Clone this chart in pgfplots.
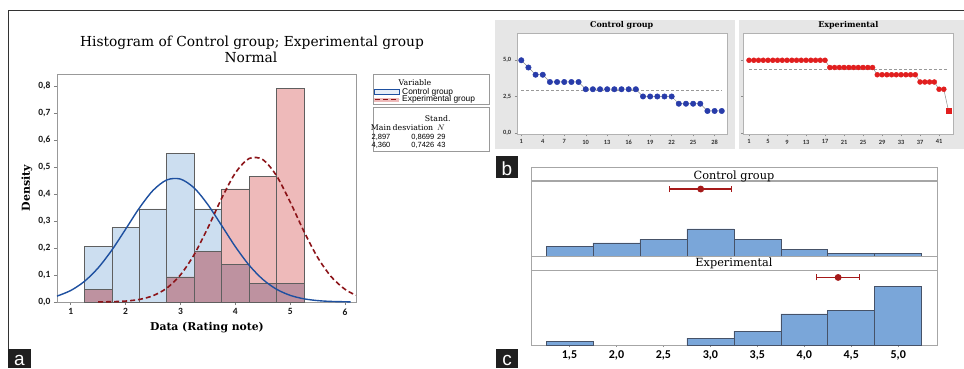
\documentclass[border=0pt]{standalone}
\usepackage{fontspec}
\setmainfont{DejaVu Serif}
\newfontfamily\sfc{Carlito}
\newfontfamily\arl{Liberation Sans}
\usepackage{pgfplots}
\pgfplotsset{compat=1.18}

\definecolor{ctrlfill}{RGB}{204,222,240}
\definecolor{expfill}{RGB}{238,186,186}
\definecolor{ovfill}{RGB}{190,146,160}
\definecolor{edgegray}{RGB}{95,95,95}
\definecolor{ctrlline}{RGB}{30,80,160}
\definecolor{expline}{RGB}{140,20,25}
\definecolor{dotblue}{RGB}{40,60,170}
\definecolor{dotred}{RGB}{225,30,30}
\definecolor{pbgray}{RGB}{230,230,230}
\definecolor{cbar}{RGB}{122,166,217}
\definecolor{cedge}{RGB}{70,82,104}
\definecolor{cired}{RGB}{165,25,25}

\begin{document}
\begin{tikzpicture}[x=1pt,y=1pt]
\useasboundingbox (0,0) rectangle (964,368);
\fill[white] (0,0) rectangle (964,368);
\draw[black!80, line width=0.8pt] (8,19) -- (8,358) -- (964,358);

% ---------------- panel a ----------------
\begin{axis}[at={(57pt,66pt)}, anchor=south west, scale only axis,
  width=299pt, height=228pt,
  xmin=0.75, xmax=6.2, ymin=0, ymax=0.8445,
  axis line style={draw=black!40},
  tick align=outside, tick pos=left, major tick length=3pt,
  tick style={black!50, line width=0.5pt},
  xtick={1,2,3,4,5,6}, xticklabels={1,2,3,4,5,6},
  ytick={0,0.1,0.2,0.3,0.4,0.5,0.6,0.7,0.8},
  yticklabels={{0,0},{0,1},{0,2},{0,3},{0,4},{0,5},{0,6},{0,7},{0,8}},
  ticklabel style={font=\fontsize{9.5}{10}\sfc\bfseries, text=black!90},
  clip=true]
\addplot[ybar, bar width=0.5, bar shift=0pt, fill=ctrlfill, draw=edgegray, line width=0.7pt]
  coordinates {(1.5,0.2069)(2.0,0.2759)(2.5,0.3448)(3.0,0.5517)(3.5,0.3448)(4.0,0.1379)(4.5,0.0690)(5.0,0.0690)};
\addplot[ybar, bar width=0.5, bar shift=0pt, fill=expfill, draw=edgegray, line width=0.7pt]
  coordinates {(1.5,0.0465)(3.0,0.0930)(3.5,0.1860)(4.0,0.4186)(4.5,0.4651)(5.0,0.7907)};
\addplot[ybar, bar width=0.5, bar shift=0pt, fill=ovfill, draw=edgegray, line width=0.7pt]
  coordinates {(1.5,0.0465)(3.0,0.0930)(3.5,0.1860)(4.0,0.1379)(4.5,0.0690)(5.0,0.0690)};
\addplot[smooth, ctrlline, line width=1.4pt] coordinates {
(0.75,0.02181)(1.0,0.04253)(1.25,0.07639)(1.5,0.12631)(1.75,0.19228)(2.0,0.26949)(2.25,0.34779)(2.5,0.41326)(2.75,0.45211)(3.0,0.45541)(3.25,0.42237)(3.5,0.36066)(3.75,0.28357)(4.0,0.20527)(4.25,0.13681)(4.5,0.08397)(4.75,0.04744)(5.0,0.02468)(5.25,0.01182)(5.5,0.00522)(5.75,0.00212)(6.1,0.00052)};
\addplot[smooth, expline, line width=1.6pt, dash pattern=on 5pt off 3pt] coordinates {
(1.5,0.00032)(1.75,0.00112)(2.0,0.00344)(2.25,0.00949)(2.5,0.02333)(2.75,0.05121)(3.0,0.10042)(3.25,0.17579)(3.5,0.27472)(3.75,0.38338)(4.0,0.47766)(4.25,0.53136)(4.5,0.52776)(4.75,0.46802)(5.0,0.37058)(5.25,0.26197)(5.5,0.16535)(5.75,0.09319)(6.0,0.04688)(6.2,0.02494)};
\end{axis}

\node[anchor=base, font=\fontsize{13.8}{15}\selectfont] at (252,321.3) {Histogram of Control group; Experimental group};
\node[anchor=base, font=\fontsize{13.8}{15}\selectfont] at (251,305.3) {Normal};
\node[rotate=90, font=\fontsize{11}{12}\bfseries] at (27,180) {Density};
\node[font=\fontsize{10.8}{12}\bfseries] at (207,40) {Data (Rating note)};

% legend
\draw[black!40, line width=0.5pt] (373,294) rectangle (489,264);
\draw[black!40, line width=0.5pt] (373,261) rectangle (489,217);
\node[font=\fontsize{7.8}{8}\selectfont] at (415,285) {Variable};
\filldraw[fill=ctrlfill!50, draw=ctrlline, line width=0.8pt] (374,273.7) rectangle (399,278.3);
\node[anchor=west, font=\fontsize{8.4}{9}\arl, inner sep=0pt] at (402,276) {Control group};
\fill[expfill] (374,266) rectangle (399,270.3);
\draw[expline, line width=1.3pt, dash pattern=on 5pt off 3pt] (375,268.2) -- (399,268.2);
\node[anchor=west, font=\fontsize{8.4}{9}\arl, inner sep=0pt] at (402,268.2) {Experimental group};
\node[font=\fontsize{7.8}{8}\selectfont] at (437.7,249) {Stand.};
\node[font=\fontsize{7.8}{8}\selectfont] at (381,240) {Main};
\node[font=\fontsize{7.8}{8}\selectfont] at (413,240) {desviation};
\node[font=\fontsize{7.8}{8}\selectfont] at (441,240) {$N$};
\node[font=\fontsize{7.5}{8}\arl] at (381,231) {2,897};
\node[anchor=east, inner sep=0pt, font=\fontsize{7.5}{8}\arl] at (434.5,231) {0,8699};
\node[anchor=west, inner sep=0pt, font=\fontsize{7.5}{8}\arl] at (437,231) {29};
\node[font=\fontsize{7.5}{8}\arl] at (381,223) {4,360};
\node[anchor=east, inner sep=0pt, font=\fontsize{7.5}{8}\arl] at (434.5,223) {0,7426};
\node[anchor=west, inner sep=0pt, font=\fontsize{7.5}{8}\arl] at (437,223) {43};

% ---------------- panel b ----------------
\fill[pbgray] (495,219) rectangle (735,348);
\fill[pbgray] (739,219) rectangle (964,348);

\begin{axis}[at={(516.7pt,233.7pt)}, anchor=south west, scale only axis,
  width=210pt, height=101pt,
  xmin=0.36, xmax=29.69, ymin=-0.11, ymax=6.86,
  axis background/.style={fill=white},
  axis line style={draw=black!30},
  tick align=outside, tick pos=left, major tick length=2pt,
  tick style={black!45, line width=0.4pt},
  xtick={1,4,7,10,13,16,19,22,25,28},
  ytick={0,2.5,5}, yticklabels={{0,0},{2,5},{5,0}},
  /pgf/number format/assume math mode=true,
  ticklabel style={font=\fontsize{6.4}{7}\sfc\bfseries, text=black!80}]
\addplot[black!40, line width=0.6pt, dash pattern=on 3pt off 2pt] coordinates {(1,2.897)(29,2.897)};
\addplot[black!45, line width=0.5pt, mark=*, mark size=2.7pt, mark options={fill=dotblue, draw=dotblue}] coordinates {
(1,5.0)(2,4.5)(3,4.0)(4,4.0)(5,3.5)(6,3.5)(7,3.5)(8,3.5)(9,3.5)(10,3.0)(11,3.0)(12,3.0)(13,3.0)(14,3.0)(15,3.0)(16,3.0)(17,3.0)(18,2.5)(19,2.5)(20,2.5)(21,2.5)(22,2.5)(23,2.0)(24,2.0)(25,2.0)(26,2.0)(27,1.5)(28,1.5)(29,1.5)};
\end{axis}
\node[font=\fontsize{8}{9}\bfseries] at (621.7,343) {Control group};

\begin{axis}[at={(743.3pt,233.7pt)}, anchor=south west, scale only axis,
  width=210pt, height=101pt,
  xmin=-0.2, xmax=44.0, ymin=-0.11, ymax=6.86,
  axis background/.style={fill=white},
  axis line style={draw=black!30},
  tick align=outside, tick pos=left, major tick length=2pt,
  tick style={black!45, line width=0.4pt},
  xtick={1,5,9,13,17,21,25,29,33,37,41},
  ytick={0,2.5,5}, yticklabels={},
  /pgf/number format/assume math mode=true,
  ticklabel style={font=\fontsize{6.4}{7}\sfc\bfseries, text=black!80}]
\addplot[black!40, line width=0.6pt, dash pattern=on 3pt off 2pt] coordinates {(1,4.36)(43,4.36)};
\addplot[black!45, line width=0.5pt] coordinates {(1,5.0)(17,5.0)(18,4.5)(27,4.5)(28,4.0)(36,4.0)(37,3.5)(40,3.5)(41,3.0)(42,3.0)(43,1.5)};
\addplot[only marks, mark=*, mark size=2.5pt, mark options={fill=dotred, draw=dotred}] coordinates {
(1,5.0)(2,5.0)(3,5.0)(4,5.0)(5,5.0)(6,5.0)(7,5.0)(8,5.0)(9,5.0)(10,5.0)(11,5.0)(12,5.0)(13,5.0)(14,5.0)(15,5.0)(16,5.0)(17,5.0)
(18,4.5)(19,4.5)(20,4.5)(21,4.5)(22,4.5)(23,4.5)(24,4.5)(25,4.5)(26,4.5)(27,4.5)
(28,4.0)(29,4.0)(30,4.0)(31,4.0)(32,4.0)(33,4.0)(34,4.0)(35,4.0)(36,4.0)
(37,3.5)(38,3.5)(39,3.5)(40,3.5)(41,3.0)(42,3.0)};
\addplot[only marks, mark=square*, mark size=2.4pt, mark options={fill=dotred, draw=dotred}] coordinates {(43,1.5)};
\end{axis}
\node[font=\fontsize{8}{9}\bfseries] at (848.3,343) {Experimental};

% ---------------- panel c ----------------
\begin{axis}[at={(531pt,111.3pt)}, anchor=south west, scale only axis,
  width=406.3pt, height=76pt,
  xmin=1.09, xmax=5.416, ymin=0, ymax=21.9,
  axis line style={draw=black!35},
  xtick=\empty, ytick=\empty, clip=false]
\addplot[ybar, bar width=0.5, bar shift=0pt, fill=cbar, draw=cedge, line width=0.6pt]
  coordinates {(1.5,3)(2.0,4)(2.5,5)(3.0,8)(3.5,5)(4.0,2)(4.5,1)(5.0,1)};
\addplot[cired, only marks, mark=*, mark size=2.8pt, line width=1.2pt,
  error bars/.cd, x dir=both, x explicit, error mark=|,
  error mark options={mark size=3pt, line width=1pt},
  error bar style={line width=1.2pt}]
  coordinates {(2.897,19.5) +- (0.331,0)};
\end{axis}

\begin{axis}[at={(531pt,23pt)}, anchor=south west, scale only axis,
  width=406.3pt, height=75pt,
  xmin=1.09, xmax=5.416, ymin=0, ymax=21.65,
  axis line style={draw=black!35},
  tick align=outside, tick pos=left, major tick length=2pt,
  tick style={black!45},
  xtick={1.5,2,2.5,3,3.5,4,4.5,5},
  xticklabels={{1,5},{2,0},{2,5},{3,0},{3,5},{4,0},{4,5},{5,0}},
  ytick=\empty,
  ticklabel style={font=\fontsize{12}{13}\sfc\bfseries, text=black}, clip=false]
\addplot[ybar, bar width=0.5, bar shift=0pt, fill=cbar, draw=cedge, line width=0.6pt]
  coordinates {(1.5,1)(3.0,2)(3.5,4)(4.0,9)(4.5,10)(5.0,17)};
\addplot[cired, only marks, mark=*, mark size=2.8pt, line width=1.2pt,
  error bars/.cd, x dir=both, x explicit, error mark=|,
  error mark options={mark size=3pt, line width=1pt},
  error bar style={line width=1.2pt}]
  coordinates {(4.36,19.5) +- (0.2286,0)};
\end{axis}

\draw[black!35, fill=white, line width=0.5pt] (531,187.3) rectangle (937.3,200.7);
\node[anchor=base, font=\fontsize{11.3}{12}\selectfont] at (734,189) {Control group};
\draw[black!35, fill=white, line width=0.5pt] (531,98) rectangle (937.3,111.3);
\node[anchor=base, font=\fontsize{11.3}{12}\selectfont] at (734,101.3) {Experimental};

% panel labels
\fill[black!88] (8,0) rectangle (31,19);
\node[anchor=base, text=white, font=\fontsize{19}{20}\arl, inner sep=0pt] at (19.5,3) {a};
\fill[black!88] (496,190) rectangle (518,212);
\node[anchor=base, text=white, font=\fontsize{19}{20}\arl, inner sep=0pt] at (507,193) {b};
\fill[black!88] (496,0) rectangle (518,19);
\node[anchor=base, text=white, font=\fontsize{19}{20}\arl, inner sep=0pt] at (507,2.5) {c};
\end{tikzpicture}
\end{document}
